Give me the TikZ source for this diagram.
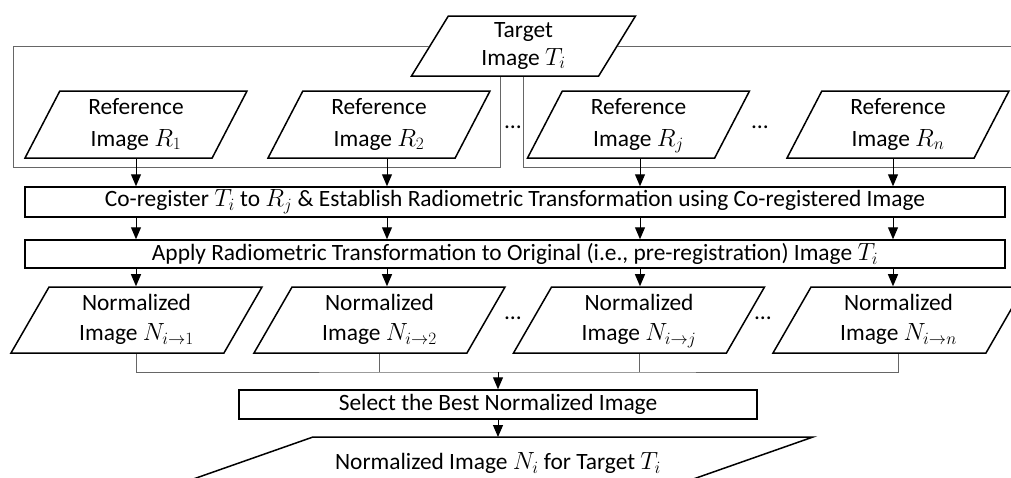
\documentclass[tikz,border=0pt]{standalone}
\usepackage{amsmath}
\usepackage{fontspec}
\setmainfont{Carlito}
\usetikzlibrary{shapes.geometric,arrows.meta}

\tikzset{
  every node/.style={font=\fontsize{23.4}{30}\selectfont},
  box/.style={draw, line width=1.5pt, inner sep=0pt},
  proc/.style={box, rectangle, minimum width=980},
  refbox/.style={box, trapezium, trapezium stretches body, align=center,
    trapezium left angle=56.7, trapezium right angle=123.3,
    minimum width=222, minimum height=67, text depth=5pt,
    font=\fontsize{23.4}{32}\selectfont},
  normbox/.style={box, trapezium, trapezium stretches body, align=center,
    trapezium left angle=53.4, trapezium right angle=126.6,
    minimum width=251, minimum height=66, text depth=5pt},
  flow/.style={-{Triangle[length=12pt,width=10pt]}, line width=1pt},
  feed/.style={draw=black!60, line width=1pt}
}

\begin{document}
\begin{tikzpicture}[x=1pt,y=-1pt]
\useasboundingbox (0,0) rectangle (1011,477);

% target and reference images
\node[box, trapezium, trapezium stretches body, align=center,
  trapezium left angle=52.5, trapezium right angle=127.5,
  minimum width=224, minimum height=60, text depth=5pt,
  font=\fontsize{23.4}{28}\selectfont] (tgt) at (523.5,46) {Target\\Image $T_i$};
\node[refbox] (r1) at (136,124.5) {Reference\\Image $R_1$};
\node[refbox] (r2) at (379,124.5) {Reference\\Image $R_2$};
\node[refbox] (rj) at (638.5,124.5) {Reference\\Image $R_j$};
\node[refbox] (rn) at (898,124.5) {Reference\\Image $R_n$};
\node (dr1) at (513,127) {\dots};
\node (dr2) at (760,127) {\dots};

% T_i is fed to every pair
\coordinate (loopL) at (13,167);
\coordinate (loopR) at (1040,167);
\draw[feed] (tgt.west) -| (loopL) -| ([xshift=-23pt]tgt.south);
\draw[feed] (tgt.east) -| (loopR) -| (tgt.south);

% processing steps
\node[proc, minimum height=30] (co) at (515,202)
  {Co-register $T_i$ to $R_j$ \& Establish Radiometric Transformation using Co-registered Image};
\node[proc, minimum height=28] (ap) at (515,254)
  {Apply Radiometric Transformation to Original (i.e., pre-registration) Image $T_i$};

% normalized images
\node[normbox] (n1) at (136.5,320) {Normalized\\Image $N_{i\rightarrow 1}$};
\node[normbox] (n2) at (379.5,320) {Normalized\\Image $N_{i\rightarrow 2}$};
\node[normbox] (nj) at (639,320) {Normalized\\Image $N_{i\rightarrow j}$};
\node[normbox] (nn) at (898.5,320) {Normalized\\Image $N_{i\rightarrow n}$};
\node (dn1) at (513,318) {\dots};
\node (dn2) at (763,318) {\dots};

\foreach \c/\x in {1/136, 2/387, j/640, n/893} {
  \coordinate (col\c) at (\x,0);
  \draw[flow] (col\c |- r\c.south) -- (col\c |- co.north);
  \draw[flow] (col\c |- co.south) -- (col\c |- ap.north);
  \draw[flow] (col\c |- ap.south) -- (col\c |- n\c.north);
}

% selection
\node[box, rectangle, minimum width=518, minimum height=29] (sel) at (498,404.5)
  {Select the Best Normalized Image};
\coordinate (join) at (498,372);
\draw[feed] (n1.center |- n1.south) |- (join) -| (nn.center |- nn.south);
\draw[feed] (n2.center |- n2.south) -- (n2.center |- join);
\draw[feed] (nj.center |- nj.south) -- (nj.center |- join);
\draw[flow] (join) -- (sel.north);

% result
\coordinate (outtop) at (498,437);
\draw[line width=1.5pt] (162,490) -- (313,437) -- (813,437) -- (662,490);
\node (out) at (498,463) {Normalized Image $N_i$ for Target $T_i$};
\draw[flow] (sel.south) -- (outtop);
\end{tikzpicture}
\end{document}
